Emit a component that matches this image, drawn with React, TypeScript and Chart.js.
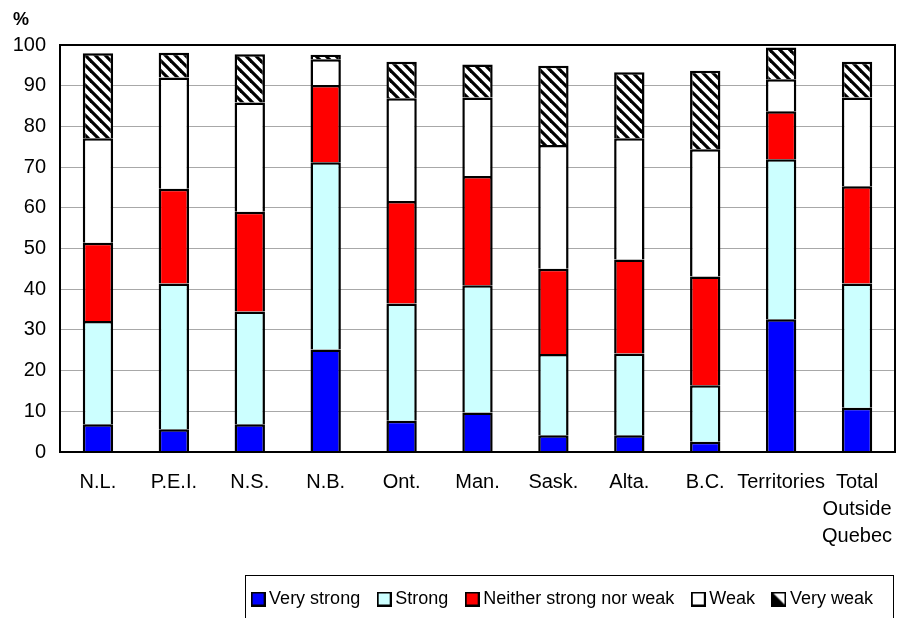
import React, { useEffect, useRef } from "react";
import { Chart, registerables } from "chart.js";

Chart.register(...registerables);

const categories: (string | string[])[] = [
  "N.L.", "P.E.I.", "N.S.", "N.B.", "Ont.", "Man.", "Sask.", "Alta.", "B.C.", "Territories",
  ["Total", "Outside", "Quebec"],
];
const seriesLabels = ["Very strong", "Strong", "Neither strong nor weak", "Weak", "Very weak"];
const veryStrong = [6.8, 5.6, 6.8, 25.2, 7.7, 9.7, 4.1, 4.1, 2.5, 32.6, 10.9];
const strong = [25.4, 35.8, 27.7, 46.0, 28.8, 31.3, 20.0, 20.1, 13.9, 39.3, 30.5];
const neither = [19.2, 23.3, 24.5, 19.0, 25.2, 26.8, 20.9, 23.1, 26.7, 11.8, 23.9];
const weak = [25.7, 27.3, 26.9, 6.3, 25.2, 19.3, 30.4, 29.8, 31.3, 7.9, 21.8];
const veryWeak = [20.9, 6.1, 11.8, 1.1, 9.0, 8.1, 19.5, 16.2, 19.3, 7.8, 8.8];
const yMin = 0;
const yMax = 100;
const yStep = 10;
const unitLabel = "%";

const FONT = "'Liberation Sans', Arial, sans-serif";

function makeHatchTile(): HTMLCanvasElement {
  const s = 10;
  const c = document.createElement("canvas");
  c.width = s;
  c.height = s;
  const g = c.getContext("2d")!;
  g.fillStyle = "#ffffff";
  g.fillRect(0, 0, s, s);
  g.strokeStyle = "#000000";
  g.lineWidth = 3.2;
  for (const x0 of [-s, 0, s]) {
    g.beginPath();
    g.moveTo(x0 - 1, -1);
    g.lineTo(x0 + s + 1, s + 1);
    g.stroke();
  }
  return c;
}

function makeIcon(fill: string, half: boolean): HTMLCanvasElement {
  const s = 15;
  const c = document.createElement("canvas");
  c.width = s;
  c.height = s;
  const g = c.getContext("2d")!;
  g.fillStyle = fill;
  g.fillRect(0, 0, s, s);
  if (half) {
    g.fillStyle = "#000";
    g.beginPath();
    g.moveTo(0, 0);
    g.lineTo(0, s);
    g.lineTo(s, s);
    g.closePath();
    g.fill();
  }
  g.strokeStyle = "#000";
  g.lineWidth = 2;
  g.strokeRect(1, 1, s - 2, s - 2);
  return c;
}

export default function App() {
  const ref = useRef<HTMLCanvasElement>(null);

  useEffect(() => {
    const canvas = ref.current!;
    const tile = makeHatchTile();
    const hatch = tile.getContext("2d")!.createPattern(tile, "repeat")!;
    const fills: (string | CanvasPattern)[] = ["#0000ff", "#ccffff", "#ff0000", "#ffffff", hatch];
    const icons = [
      makeIcon("#0000ff", false),
      makeIcon("#ccffff", false),
      makeIcon("#ff0000", false),
      makeIcon("#ffffff", false),
      makeIcon("#ffffff", true),
    ];
    const values = [veryStrong, strong, neither, weak, veryWeak];

    const decor = {
      id: "decor",
      afterDatasetsDraw(chart: any) {
        const { ctx, chartArea } = chart;
        ctx.save();
        ctx.strokeStyle = "#000";
        ctx.lineWidth = 2;
        ctx.strokeRect(chartArea.left, chartArea.top, chartArea.right - chartArea.left, chartArea.bottom - chartArea.top);
        ctx.restore();
      },
      afterDraw(chart: any) {
        const { ctx } = chart;
        ctx.save();
        ctx.fillStyle = "#000";
        ctx.font = `bold 18px ${FONT}`;
        ctx.textAlign = "left";
        ctx.textBaseline = "middle";
        ctx.fillText(unitLabel, 13, 20);
        const boxes = chart.legend?.legendHitBoxes || [];
        if (boxes.length) {
          const left = boxes[0].left - 11;
          const right = 893;
          ctx.strokeStyle = "#000";
          ctx.lineWidth = 1;
          ctx.strokeRect(Math.round(left) + 0.5, 575.5, Math.round(right - left), 60);
        }
        ctx.restore();
      },
    };

    const chart = new Chart(canvas, {
      type: "bar",
      data: {
        labels: categories,
        datasets: seriesLabels.map((label, i) => ({
          label,
          data: values[i],
          backgroundColor: fills[i],
          borderColor: "#000000",
          borderWidth: 2.5,
          barPercentage: 0.4,
          categoryPercentage: 1,
        })),
      },
      options: {
        responsive: false,
        animation: false,
        devicePixelRatio: 1,
        layout: { padding: { top: 45, right: 3, left: 0, bottom: 0 } },
        plugins: {
          tooltip: { enabled: false },
          title: { display: false },
          legend: {
            display: true,
            position: "bottom",
            align: "end",
            labels: {
              usePointStyle: true,
              pointStyleWidth: 4,
              boxHeight: 15,
              padding: 22,
              color: "#000",
              font: { size: 18, family: FONT },
              generateLabels: (ch: any) =>
                ch.data.datasets.map((ds: any, i: number) => ({
                  text: ds.label,
                  pointStyle: icons[i],
                  fillStyle: "#fff",
                  strokeStyle: "#000",
                  lineWidth: 0,
                  hidden: false,
                  datasetIndex: i,
                  fontColor: "#000",
                })),
            },
          },
        },
        scales: {
          x: {
            stacked: true,
            grid: { display: false, drawTicks: false },
            border: { display: false },
            ticks: {
              color: "#000",
              padding: 17,
              maxRotation: 0,
              autoSkip: false,
              font: { size: 20, family: FONT, lineHeight: 1.35 },
            },
            afterFit: (s: any) => {
              s.height = 116;
              s.paddingLeft = 0;
              s.paddingRight = 0;
            },
          },
          y: {
            stacked: true,
            min: yMin,
            max: yMax,
            grid: { color: "#a8a8a8", lineWidth: 1, drawTicks: false },
            border: { display: false },
            ticks: {
              stepSize: yStep,
              color: "#000",
              padding: 14,
              font: { size: 20, family: FONT },
            },
            afterFit: (s: any) => {
              s.width = 60;
            },
          },
        },
      },
      plugins: [decor],
    });
    return () => chart.destroy();
  }, []);

  return (
    <div style={{ position: "fixed", left: 0, top: 0, width: 898, height: 618, background: "#fff" }}>
      <canvas ref={ref} width={898} height={618} style={{ display: "block" }} />
    </div>
  );
}
